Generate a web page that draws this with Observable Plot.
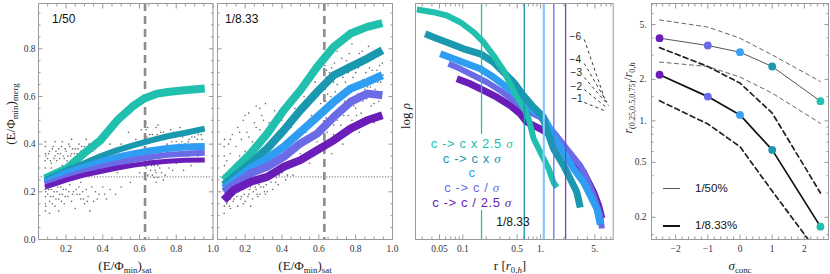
<!DOCTYPE html>
<html><head><meta charset="utf-8">
<script src="https://cdn.jsdelivr.net/npm/d3@7"></script>
<script src="https://cdn.jsdelivr.net/npm/@observablehq/plot@0.6"></script>
<style>
body{margin:0;background:#fff;}
#wrap{position:relative;width:830px;height:274px;overflow:hidden;font-family:'Liberation Sans',Arial,sans-serif;}
.panel{position:absolute;top:0;}
.lbl{position:absolute;white-space:nowrap;font-family:'Liberation Serif','Times New Roman',serif;font-size:13px;color:#222;line-height:1;}
.lbl sub{font-size:0.68em;vertical-align:-0.35em;line-height:0;}
.rot{transform:translate(-50%,-50%) rotate(-90deg);}
.ctr{transform:translate(-50%,-50%);}
.ann{position:absolute;white-space:nowrap;font-family:'Liberation Sans',Arial,sans-serif;font-size:12px;color:#111;line-height:1;transform:translateY(-50%);}
.leg{position:absolute;left:427px;top:134px;width:90px;height:76px;background:#fff;}
.leg div{position:absolute;left:45px;white-space:nowrap;font-family:'Liberation Sans',Arial,sans-serif;font-size:13px;letter-spacing:0.6px;transform:translate(-50%,-50%);line-height:1;}
.leg i{font-family:'Liberation Serif',serif;}
.lgline{position:absolute;left:663px;width:17px;}
</style></head><body><div id="wrap"></div>
<script>
// ---------- colours of the concentration series ----------
const seriesNames = ["c -> c x 2.5 σ", "c -> c x σ", "c", "c -> c / σ", "c -> c / 2.5 σ"];
const seriesColors = ["#20bfae", "#1a98b0", "#2f9ef2", "#6b6be8", "#6a1db8"];

// ---------- panel 1 (1/50) ----------
const merg50_c2 = [[0.085,0.256],[0.204,0.298],[0.296,0.36],[0.387,0.416],[0.479,0.50],[0.57,0.563],[0.625,0.591],[0.698,0.612],[0.753,0.619],[0.845,0.626],[0.955,0.633]];
const merg50_c1 = [[0.085,0.249],[0.204,0.291],[0.296,0.319],[0.387,0.349],[0.479,0.375],[0.57,0.396],[0.662,0.416],[0.753,0.433],[0.845,0.447],[0.955,0.465]];
const merg50_c0 = [[0.085,0.238],[0.204,0.28],[0.296,0.303],[0.387,0.325],[0.479,0.345],[0.57,0.36],[0.662,0.372],[0.753,0.382],[0.845,0.388],[0.955,0.39]];
const merg50_cm1 = [[0.085,0.231],[0.204,0.262],[0.296,0.285],[0.387,0.303],[0.479,0.32],[0.57,0.335],[0.662,0.346],[0.753,0.355],[0.845,0.36],[0.955,0.364]];
const merg50_cm2 = [[0.085,0.22],[0.204,0.25],[0.296,0.27],[0.387,0.285],[0.479,0.30],[0.57,0.312],[0.662,0.322],[0.753,0.328],[0.845,0.332],[0.955,0.334]];
const scatter50 = [[0.087,0.12],[0.087,0.15],[0.088,0.18],[0.086,0.21],[0.087,0.24],[0.088,0.27],[0.087,0.30],[0.086,0.33],[0.088,0.36],[0.087,0.39],[0.087,0.41],[0.09,0.14],[0.089,0.2],[0.09,0.35],
[0.10,0.34],[0.11,0.37],[0.12,0.32],[0.13,0.39],[0.14,0.35],[0.15,0.33],[0.16,0.38],[0.17,0.36],[0.18,0.41],[0.19,0.34],[0.20,0.37],[0.21,0.35],[0.22,0.39],[0.23,0.36],[0.24,0.33],[0.25,0.38],[0.26,0.36],[0.27,0.40],[0.28,0.37],[0.29,0.35],[0.30,0.39],[0.31,0.42],[0.32,0.37],[0.34,0.40],[0.36,0.38],[0.38,0.42],[0.40,0.41],[0.42,0.44],[0.44,0.40],[0.12,0.30],[0.14,0.41],[0.18,0.31],[0.23,0.42],[0.27,0.33],[0.33,0.34],
[0.105,0.36],[0.115,0.33],[0.125,0.38],[0.135,0.34],[0.145,0.37],[0.155,0.36],[0.165,0.34],[0.175,0.39],[0.185,0.35],[0.195,0.38],[0.205,0.33],[0.215,0.40],[0.225,0.35],[0.235,0.38],[0.245,0.36],[0.255,0.34],[0.265,0.38],[0.285,0.39],[0.305,0.36],[0.325,0.40],[0.345,0.37],[0.37,0.40],
[0.10,0.19],[0.11,0.16],[0.12,0.21],[0.13,0.18],[0.14,0.14],[0.15,0.20],[0.16,0.17],[0.17,0.22],[0.18,0.19],[0.19,0.15],[0.20,0.21],[0.21,0.18],[0.22,0.23],[0.23,0.16],[0.24,0.20],[0.25,0.13],[0.26,0.19],[0.27,0.22],[0.28,0.17],[0.29,0.20],[0.30,0.15],[0.31,0.21],[0.32,0.18],[0.34,0.22],[0.35,0.16],[0.36,0.20],[0.38,0.19],[0.40,0.22],[0.42,0.17],[0.44,0.21],[0.47,0.19],[0.50,0.22],[0.11,0.11],[0.16,0.12],[0.20,0.25],[0.13,0.24],[0.28,0.24],[0.33,0.12],
[0.105,0.21],[0.115,0.18],[0.125,0.15],[0.135,0.20],[0.145,0.17],[0.155,0.22],[0.165,0.19],[0.175,0.16],[0.185,0.21],[0.195,0.18],[0.215,0.20],[0.235,0.19],[0.255,0.21],[0.275,0.19],[0.295,0.17],[0.315,0.16],[0.37,0.17],[0.41,0.19],
[0.48,0.28],[0.50,0.40],[0.52,0.31],[0.54,0.45],[0.55,0.24],[0.57,0.36],[0.58,0.42],[0.60,0.28],[0.61,0.46],
[0.63,0.22],[0.635,0.25],[0.632,0.28],[0.64,0.31],[0.633,0.34],[0.638,0.37],[0.631,0.40],[0.64,0.43],[0.636,0.46],[0.634,0.49],[0.645,0.27],[0.648,0.41],
[0.66,0.29],[0.67,0.44],[0.68,0.26],[0.69,0.47],[0.70,0.31],[0.71,0.42],[0.72,0.28],[0.73,0.45],[0.74,0.33],[0.75,0.40],[0.76,0.30],[0.77,0.46],[0.78,0.36],[0.79,0.43],[0.80,0.32],[0.81,0.44],[0.82,0.38],[0.83,0.41],[0.84,0.29],[0.85,0.45],[0.86,0.35],[0.87,0.42],[0.88,0.39],[0.89,0.46],[0.90,0.33],[0.91,0.40],[0.92,0.44],[0.93,0.37],[0.94,0.42],[0.95,0.39],[0.66,0.38],[0.68,0.35],[0.70,0.48],[0.72,0.39],[0.74,0.27],[0.76,0.43],[0.78,0.29],[0.80,0.41],[0.82,0.47],[0.84,0.36],[0.86,0.44],[0.88,0.31],[0.90,0.43],[0.92,0.35],[0.69,0.24],[0.71,0.34],[0.73,0.25],
[0.637,0.30],[0.641,0.36],[0.644,0.47],[0.652,0.33],[0.655,0.44],[0.665,0.31],[0.675,0.41],[0.685,0.29],[0.695,0.44],[0.705,0.36],[0.715,0.45],[0.725,0.32],[0.735,0.42],[0.745,0.38],[0.755,0.44],[0.765,0.35],[0.775,0.41],[0.785,0.45],[0.795,0.38],[0.805,0.44],[0.815,0.40],[0.825,0.34],[0.835,0.43],[0.845,0.40],[0.855,0.38],[0.865,0.41],[0.875,0.37],[0.885,0.43],[0.895,0.40],[0.905,0.37],[0.915,0.42],[0.925,0.40],[0.935,0.44],[0.945,0.38],[0.66,0.34],[0.67,0.27],[0.68,0.31],[0.69,0.28],[0.70,0.26],[0.71,0.30]];

// ---------- panel 2 (1/8.33) ----------
const merg833_c2 = [[0.084,0.249],[0.229,0.36],[0.32,0.444],[0.41,0.542],[0.5,0.626],[0.591,0.724],[0.681,0.808],[0.772,0.864],[0.863,0.892],[0.945,0.908]];
const merg833_c1 = [[0.084,0.228],[0.229,0.319],[0.32,0.382],[0.41,0.458],[0.5,0.542],[0.591,0.619],[0.681,0.689],[0.772,0.724],[0.863,0.759],[0.945,0.794]];
const merg833_c0 = [[0.084,0.214],[0.229,0.298],[0.32,0.34],[0.41,0.389],[0.5,0.451],[0.591,0.514],[0.681,0.577],[0.772,0.633],[0.863,0.661],[0.945,0.689]];
const merg833_cm1 = [[0.084,0.2],[0.229,0.277],[0.32,0.305],[0.41,0.347],[0.5,0.403],[0.591,0.444],[0.681,0.514],[0.772,0.577],[0.863,0.612],[0.945,0.605]];
const merg833_cm2 = [[0.084,0.165],[0.138,0.207],[0.229,0.242],[0.32,0.263],[0.41,0.305],[0.5,0.333],[0.591,0.375],[0.681,0.416],[0.772,0.465],[0.863,0.5],[0.945,0.521]];
const scatter833 = [[0.086,0.11],[0.087,0.14],[0.086,0.17],[0.088,0.20],[0.087,0.23],[0.086,0.27],[0.088,0.31],[0.087,0.35],[0.086,0.39],[0.088,0.42],
[0.10,0.15],[0.11,0.19],[0.12,0.13],[0.13,0.22],[0.14,0.17],[0.15,0.20],[0.16,0.14],[0.17,0.23],[0.18,0.18],[0.19,0.21],[0.20,0.16],[0.21,0.25],[0.22,0.19],[0.23,0.22],[0.24,0.17],[0.25,0.26],[0.26,0.21],[0.27,0.24],[0.28,0.19],[0.29,0.27],[0.30,0.22],[0.31,0.25],[0.32,0.20],[0.33,0.28],[0.34,0.24],[0.35,0.21],[0.36,0.29],[0.37,0.26],[0.38,0.23],[0.40,0.28],[0.42,0.25],[0.44,0.31],[0.46,0.27],[0.48,0.33],[0.12,0.17],[0.14,0.25],[0.19,0.15],[0.23,0.14],[0.27,0.18],[0.31,0.19],
[0.105,0.17],[0.115,0.14],[0.125,0.2],[0.135,0.16],[0.145,0.22],[0.155,0.18],[0.165,0.2],[0.175,0.17],[0.185,0.22],[0.195,0.19],[0.205,0.22],[0.215,0.18],[0.225,0.21],[0.235,0.24],[0.245,0.2],[0.255,0.22],[0.265,0.19],[0.275,0.23],[0.285,0.22],[0.295,0.25],[0.305,0.2],[0.315,0.23],[0.325,0.26],[0.345,0.27],[0.365,0.24],[0.385,0.27],[0.41,0.3],[0.43,0.27],
[0.10,0.33],[0.11,0.40],[0.12,0.36],[0.13,0.44],[0.14,0.31],[0.15,0.39],[0.16,0.47],[0.17,0.35],[0.18,0.42],[0.19,0.50],[0.20,0.37],[0.21,0.45],[0.22,0.53],[0.23,0.33],[0.24,0.41],[0.25,0.49],[0.26,0.56],[0.27,0.38],[0.28,0.46],[0.29,0.52],[0.30,0.43],[0.31,0.57],[0.32,0.35],[0.33,0.49],[0.34,0.41],[0.36,0.54],[0.38,0.45],[0.40,0.50],[0.42,0.39],[0.45,0.47],[0.47,0.55],[0.15,0.29],[0.25,0.32],
[0.12,0.42],[0.17,0.45],[0.22,0.43],[0.26,0.47],[0.3,0.5],[0.35,0.47],[0.2,0.52],[0.28,0.55],
[0.50,0.36],[0.52,0.60],[0.53,0.45],[0.55,0.32],[0.56,0.52],[0.58,0.66],[0.59,0.41],[0.61,0.57],
[0.63,0.38],[0.632,0.43],[0.635,0.48],[0.631,0.53],[0.638,0.58],[0.634,0.63],[0.64,0.68],[0.633,0.73],[0.637,0.77],[0.645,0.45],[0.648,0.61],[0.642,0.71],
[0.66,0.50],[0.67,0.72],[0.68,0.44],[0.69,0.62],[0.70,0.79],[0.71,0.55],[0.72,0.48],[0.73,0.68],[0.74,0.58],[0.75,0.75],[0.76,0.52],[0.77,0.64],[0.78,0.82],[0.79,0.56],[0.80,0.70],[0.81,0.61],[0.82,0.78],[0.83,0.53],[0.84,0.67],[0.85,0.74],[0.86,0.59],[0.87,0.81],[0.88,0.64],[0.89,0.71],[0.90,0.57],[0.91,0.77],[0.92,0.66],[0.93,0.73],[0.94,0.62],[0.95,0.69],[0.66,0.40],[0.68,0.66],[0.70,0.42],[0.72,0.60],[0.74,0.46],[0.76,0.70],[0.78,0.50],[0.80,0.63],[0.82,0.45],[0.84,0.58],[0.86,0.51],[0.88,0.76],[0.90,0.49],[0.92,0.61],[0.94,0.78],[0.70,0.65],[0.75,0.62],[0.80,0.55],[0.85,0.63],[0.90,0.67],[0.67,0.36],[0.73,0.40],
[0.636,0.41],[0.639,0.51],[0.643,0.56],[0.646,0.66],[0.639,0.75],[0.655,0.55],[0.658,0.70],[0.665,0.60],[0.675,0.52],[0.685,0.74],[0.695,0.57],[0.705,0.69],[0.715,0.61],[0.725,0.76],[0.735,0.52],[0.745,0.66],[0.755,0.55],[0.765,0.78],[0.775,0.59],[0.785,0.68],[0.795,0.74],[0.805,0.52],[0.815,0.72],[0.825,0.60],[0.835,0.79],[0.845,0.66],[0.855,0.70],[0.865,0.64],[0.875,0.72],[0.885,0.56],[0.895,0.78],[0.905,0.63],[0.915,0.71],[0.925,0.58],[0.935,0.66],[0.945,0.74],[0.68,0.48],[0.7,0.5],[0.72,0.54],[0.74,0.63]];

const mergThreshold = 0.263;   // dotted horizontal
const satCut = 0.63;           // dashed vertical
const satTicks = [0.2,0.4,0.6,0.8,1.0];
const satTickLabels = ["0.2","0.4","0.6","0.8","1.0"];
const satMinor = [0.05,0.1,0.15,0.25,0.3,0.35,0.45,0.5,0.55,0.65,0.7,0.75,0.85,0.9,0.95];
const mergTicks = [0,0.2,0.4,0.6,0.8];
const mergTickLabels = ["0.0","0.2","0.4","0.6","0.8"];
const mergMinor = [0.05,0.1,0.15,0.25,0.3,0.35,0.45,0.5,0.55,0.65,0.7,0.75,0.85,0.9,0.95];

// ---------- panel 3 (density profiles, 1/8.33) ----------
const prof_c2 = [[0.0256,1.797],[0.042,1.705],[0.0622,1.593],[0.0926,1.366],[0.1374,1.027],[0.1846,0.688],[0.248,0.237],[0.334,-0.271],[0.407,-0.722],[0.495,-1.176],[0.604,-1.515],[0.701,-1.898],[0.813,-2.576],[0.942,-2.915],[1.093,-3.254],[1.268,-3.593],[1.47,-4.068],[1.62,-4.227]];
const prof_c1 = [[0.0328,0.973],[0.042,0.858],[0.0622,0.688],[0.102,0.464],[0.1675,0.295],[0.248,0.01],[0.334,-0.329],[0.45,-0.668],[0.604,-1.119],[0.813,-1.515],[1.039,-1.797],[1.47,-2.925],[1.977,-3.492],[2.41,-3.942],[2.93,-4.397],[3.24,-4.915]];
const prof_c0 = [[0.0512,0.295],[0.076,0.125],[0.1125,-0.044],[0.1675,-0.214],[0.248,-0.498],[0.368,-0.837],[0.548,-1.231],[0.813,-1.627],[1.093,-1.854],[1.47,-2.475],[1.977,-3.041],[2.66,-3.603],[3.57,-4.058],[4.36,-4.508],[5.31,-4.959],[5.87,-5.492]];
const prof_cm1 = [[0.0655,-0.044],[0.0926,-0.214],[0.1374,-0.441],[0.204,-0.668],[0.303,-0.949],[0.45,-1.288],[0.667,-1.627],[0.991,-1.854],[1.47,-2.363],[2.18,-2.925],[3.24,-3.492],[3.94,-3.942],[4.81,-4.508],[5.87,-5.186],[6.15,-5.627]];
const prof_cm2 = [[0.0837,-0.553],[0.1245,-0.722],[0.1846,-0.949],[0.274,-1.176],[0.407,-1.458],[0.548,-1.739],[0.667,-2.024],[0.991,-2.247],[1.62,-2.586],[2.41,-3.153],[3.57,-3.719],[4.81,-4.397],[5.57,-4.847],[6.15,-5.288]];
const halfMassRadii = [0.174, 0.617, 1.10, 1.48, 2.10];
const halfMassColors = ["#20bfae", "#1a98b0", "#8ac6f7", "#6b6be8", "#7b3fd0"];
const halfMassWidths = [1.3, 1.3, 2.2, 1.3, 1.3];
const slopeNames = ["−6","−4","−3","−2","−1"];
const slopeLabelR = [2.80, 2.80, 2.88, 2.88, 2.93];
const slopeLabelY = [0.858, 0.092, -0.349, -0.814, -1.231];
const slopeR1 = [3.65, 3.65, 3.65, 3.65, 3.65];
const slopeY1 = [0.78, -0.034, -0.508, -0.915, -1.356];
const slopeR2 = [6.66, 7.28, 7.50, 7.07, 6.60];
const slopeY2 = [-1.22, -1.39, -1.458, -1.525, -1.627];
const rTicks = [0.05,0.1,0.5,1,5];
const rTickLabels = ["0.05","0.1","0.5","1.","5."];
const rMinor = [0.03,0.04,0.06,0.07,0.08,0.09,0.2,0.3,0.4,0.6,0.7,0.8,0.9,2,3,4,6,7,8];

// ---------- panel 4 (quartile radii vs sigma) ----------
const sigmaConc = [-2.5,-1,0,1,2.5];
const sigmaColors = ["#6a1db8","#6b6be8","#3a9ff5","#1a98b0","#20bfae"];
const r50_med = [3.98,3.52,3.15,2.48,1.39];
const r50_hi = [5.4,4.79,3.98,3.01,1.93];
const r50_lo = [2.67,2.48,2.08,1.59,0.96];
const r833_med = [2.16,1.50,1.105,0.616,0.171];
const r833_hi = [3.40,2.48,1.88,1.14,0.30];
const r833_lo = [1.40,0.95,0.65,0.31,0.105];
const sigmaTicks = [-2,-1,0,1,2];
const sigmaTickLabels = ["−2","−1","0","1","2"];
const sigmaMinor = [-2.6,-2.4,-2.2,-1.8,-1.6,-1.4,-1.2,-0.8,-0.6,-0.4,-0.2,0.2,0.4,0.6,0.8,1.2,1.4,1.6,1.8,2.2,2.4,2.6];
const ratioTicks = [0.2,0.5,1,2,5];
const ratioTickLabels = ["0.2","0.5","1.","2.","5."];
const ratioMinor = [0.15,0.3,0.4,0.6,0.7,0.8,0.9,1.5,3,4,6,7];

// ---------- helpers ----------
const wrap = document.getElementById("wrap");
const tickColor = "#9a9a9a";
const labelColor = "#333";
const baseStyle = {fontFamily:"'Liberation Serif','Times New Roman',serif", fontSize:"9.5px", color:"#333", background:"transparent", overflow:"visible"};
function place(svg, left){const d=document.createElement("div");d.className="panel";d.style.left=left+"px";d.appendChild(svg);wrap.appendChild(d);}
function tickMarks(axis, major, minor, anchors){
  const out = [];
  for (const anchor of anchors) {
    out.push(axis(major,{anchor,tickSize:-4.5,tickFormat:()=>"",label:null,stroke:tickColor,fill:"none"}));
    out.push(axis(minor,{anchor,tickSize:-2.5,tickFormat:()=>"",label:null,stroke:tickColor,fill:"none"}));
  }
  return out;
}
function xLabels(ticks, labels){
  return Plot.text(ticks,{x:d=>d,frameAnchor:"bottom",dy:5.5,lineAnchor:"top",textAnchor:"middle",text:labels,fill:labelColor});
}
function yLabels(ticks, labels, gap=3){
  return Plot.text(ticks,{y:d=>d,frameAnchor:"left",dx:-gap,textAnchor:"end",text:labels,fill:labelColor});
}
function bands(list, widths){
  return list.map((d,i)=>Plot.line(d,{x:"0",y:"1",stroke:seriesColors[i],strokeWidth:widths[i],strokeLinecap:"butt",strokeLinejoin:"round"}));
}

// ---------- panel 1 ----------
place(Plot.plot({
  width:215,height:274,marginLeft:38,marginRight:2.5,marginTop:3,marginBottom:35,style:baseStyle,
  x:{domain:[0.05,1.0],axis:null},y:{domain:[0,0.99],axis:null},
  marks:[
    Plot.dot(scatter50,{x:"0",y:"1",r:0.8,fill:"#666",stroke:null}),
    Plot.ruleY([mergThreshold],{stroke:"#8a8a8a",strokeWidth:1.2,strokeDasharray:"1.2,1.6"}),
    Plot.ruleX([satCut],{stroke:"#8c8c8c",strokeWidth:2.6,strokeDasharray:"8,5"}),
    ...bands([merg50_c2,merg50_c1,merg50_c0,merg50_cm1,merg50_cm2],[8,6,7,6,5]),
    Plot.frame({stroke:tickColor}),
    ...tickMarks(Plot.axisX,satTicks,satMinor,["bottom","top"]),
    ...tickMarks(Plot.axisY,mergTicks,mergMinor,["left","right"]),
    xLabels(satTicks,satTickLabels),
    yLabels(mergTicks,mergTickLabels,3)
  ]
}),0);

// ---------- panel 2 ----------
place(Plot.plot({
  width:182,height:274,marginLeft:2,marginRight:5,marginTop:3,marginBottom:35,style:baseStyle,
  x:{domain:[0.05,1.0],axis:null},y:{domain:[0,0.99],axis:null},
  marks:[
    Plot.dot(scatter833,{x:"0",y:"1",r:0.8,fill:"#666",stroke:null}),
    Plot.ruleY([mergThreshold],{stroke:"#8a8a8a",strokeWidth:1.2,strokeDasharray:"1.2,1.6"}),
    Plot.ruleX([satCut],{stroke:"#8c8c8c",strokeWidth:2.6,strokeDasharray:"8,5"}),
    ...bands([merg833_c2,merg833_c1,merg833_c0,merg833_cm1,merg833_cm2],[8,8,8,8,8]),
    Plot.frame({stroke:tickColor}),
    ...tickMarks(Plot.axisX,satTicks,satMinor,["bottom","top"]),
    ...tickMarks(Plot.axisY,mergTicks,mergMinor,["left","right"]),
    xLabels(satTicks,satTickLabels)
  ]
}),215);

// ---------- panel 3 ----------
const profiles = [prof_c2,prof_c1,prof_c0,prof_cm1,prof_cm2];
const profWidths = [6,7,7,6,7];
place(Plot.plot({
  width:219,height:274,marginLeft:18,marginRight:3.3,marginTop:3,marginBottom:35,style:baseStyle,
  x:{type:"log",domain:[0.0246,8.6],axis:null},y:{domain:[-6,2],axis:null},
  marks:[
    ...[4,3,2,1,0].map(i=>Plot.line(profiles[i],{x:"0",y:"1",stroke:seriesColors[i],strokeWidth:profWidths[i],strokeLinecap:"butt",strokeLinejoin:"round"})),
    Plot.ruleX(halfMassRadii,{x:d=>d,stroke:halfMassColors,strokeWidth:halfMassWidths}),
    Plot.link(slopeNames,{x1:slopeR1,y1:slopeY1,x2:slopeR2,y2:slopeY2,stroke:"#222",strokeWidth:0.9,strokeDasharray:"3,3"}),
    Plot.text(slopeNames,{x:slopeLabelR,y:slopeLabelY,text:d=>d,fontFamily:"'Liberation Sans',Arial,sans-serif",fontSize:10,fill:"#222"}),
    Plot.frame({stroke:tickColor}),
    ...tickMarks(Plot.axisX,rTicks,rMinor,["bottom","top"]),
    xLabels(rTicks,rTickLabels)
  ]
}),397);

// ---------- panel 4 ----------
place(Plot.plot({
  width:214,height:274,marginLeft:35,marginRight:2,marginTop:3,marginBottom:35,style:baseStyle,
  x:{domain:[-2.75,2.75],axis:null},y:{type:"log",domain:[0.138,7.1],axis:null},
  marks:[
    Plot.line(r50_hi,{x:sigmaConc,y:d=>d,stroke:"#555",strokeWidth:0.9,strokeDasharray:"4,3.5",clip:true}),
    Plot.line(r50_lo,{x:sigmaConc,y:d=>d,stroke:"#555",strokeWidth:0.9,strokeDasharray:"4,3.5",clip:true}),
    Plot.line(r833_hi,{x:sigmaConc,y:d=>d,stroke:"#222",strokeWidth:1.7,strokeDasharray:"5,3.5",clip:true}),
    Plot.line(r833_lo,{x:sigmaConc,y:d=>d,stroke:"#222",strokeWidth:1.7,strokeDasharray:"5,3.5",clip:true}),
    Plot.line(r50_med,{x:sigmaConc,y:d=>d,stroke:"#555",strokeWidth:1}),
    Plot.line(r833_med,{x:sigmaConc,y:d=>d,stroke:"#111",strokeWidth:1.7}),
    Plot.dot(r50_med,{x:sigmaConc,y:d=>d,r:3.9,fill:sigmaColors,stroke:null}),
    Plot.dot(r833_med,{x:sigmaConc,y:d=>d,r:3.9,fill:sigmaColors,stroke:null}),
    Plot.frame({stroke:tickColor}),
    ...tickMarks(Plot.axisX,sigmaTicks,sigmaMinor,["bottom","top"]),
    ...tickMarks(Plot.axisY,ratioTicks,ratioMinor,["left","right"]),
    xLabels(sigmaTicks,sigmaTickLabels),
    yLabels(ratioTicks,ratioTickLabels,5)
  ]
}),616);

// ---------- text overlays ----------
const html = `
<div class="lbl rot" style="left:10px;top:114px">(E/Φ<sub>min</sub>)<sub>merg</sub></div>
<div class="lbl ctr" style="left:125px;top:265px">(E/Φ<sub>min</sub>)<sub>sat</sub></div>
<div class="lbl ctr" style="left:305px;top:265px">(E/Φ<sub>min</sub>)<sub>sat</sub></div>
<div class="lbl rot" style="left:405px;top:116px">log <i>ρ</i></div>
<div class="lbl ctr" style="left:510px;top:265px">r [<i>r</i><sub>0,<i>h</i></sub>]</div>
<div class="lbl rot" style="left:628px;top:98px;font-size:12px"><i>r</i><sub>(0.25,0.5,0.75)</sub>/<i>r</i><sub>0,<i>h</i></sub></div>
<div class="lbl ctr" style="left:740px;top:265px"><i>σ</i><sub>conc</sub></div>
<div class="ann" style="left:52px;top:19px">1/50</div>
<div class="ann" style="left:225px;top:19px">1/8.33</div>
<div class="ann" style="left:513px;top:222px;transform:translate(-50%,-50%)">1/8.33</div>
<div class="leg">
 ${seriesNames.map((n,i)=>`<div style="top:${[9.3,24.3,38.3,52.7,67.7][i]}px;color:${seriesColors[i]}">${n.replace("σ","<i>σ</i>")}</div>`).join("")}
</div>
<div class="lgline" style="top:188px;border-top:1px solid #555"></div>
<div class="ann" style="left:695px;top:189px;font-size:11.5px">1/50%</div>
<div class="lgline" style="top:225px;border-top:2px solid #111"></div>
<div class="ann" style="left:695px;top:226px;font-size:11.5px">1/8.33%</div>`;
wrap.insertAdjacentHTML("beforeend", html);
</script></body></html>
